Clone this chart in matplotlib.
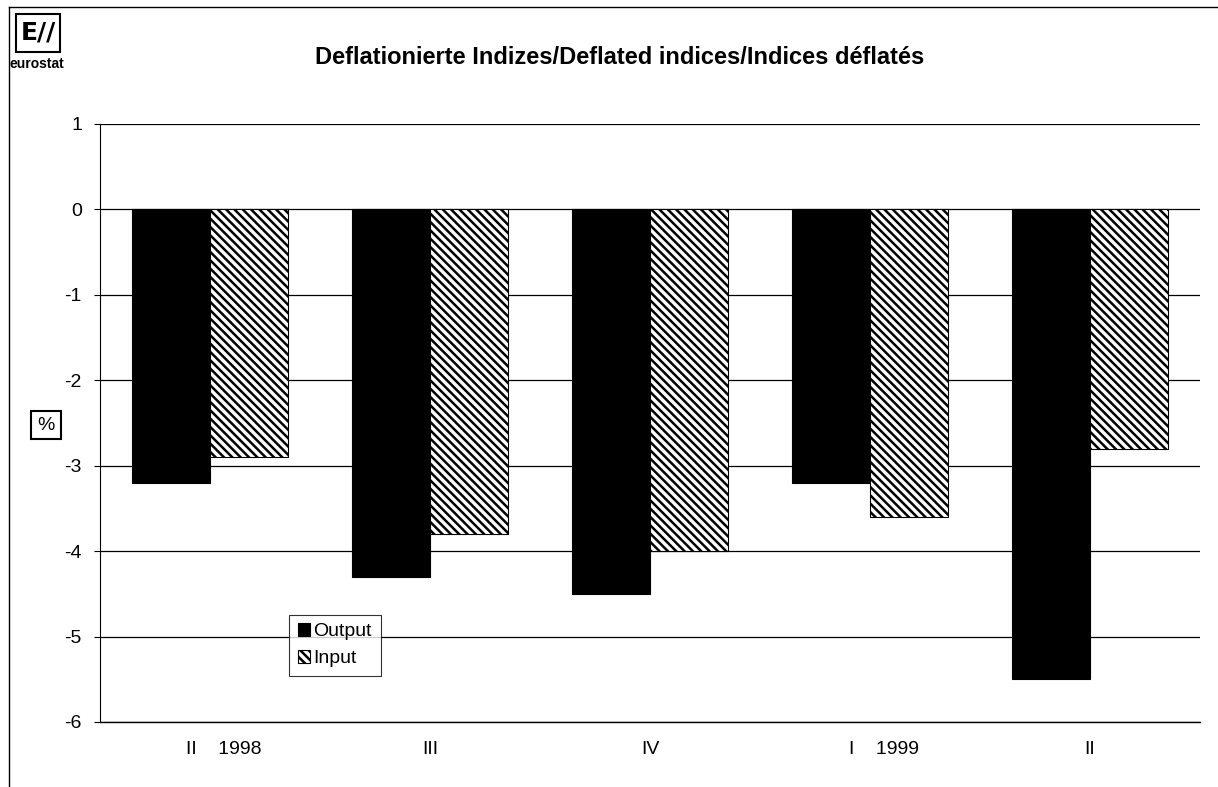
import matplotlib
matplotlib.use("Agg")
import matplotlib.pyplot as plt
from matplotlib.patches import Rectangle
import matplotlib.transforms as mtransforms
import numpy as np

plt.rcParams['font.family'] = ['Liberation Sans', 'DejaVu Sans']
plt.rcParams['hatch.linewidth'] = 1.8

categories = ["II    1998", "III", "IV", "I    1999", "II"]
output_vals = [-3.2, -4.3, -4.5, -3.2, -5.5]
input_vals = [-2.9, -3.8, -4.0, -3.6, -2.8]
yticks = [1, 0, -1, -2, -3, -4, -5, -6]

W, H = 1218, 787
fig = plt.figure(figsize=(W / 100, H / 100), dpi=100)
ax = fig.add_axes([100 / W, 1 - 722 / H, 1100 / W, (722 - 124) / H])

x = np.arange(len(categories))
bw = 0.355
ax.bar(x - bw / 2, output_vals, bw, color='black', edgecolor='black', linewidth=0.8,
       label='Output', zorder=3)
ax.bar(x + bw / 2, input_vals, bw, color='white', edgecolor='black', hatch='\\\\\\\\',
       linewidth=0.8, label='Input', zorder=3)

ax.set_xlim(-0.5, len(categories) - 0.5)
ax.set_ylim(-6, 1)
ax.set_yticks(yticks)
ax.set_yticklabels([str(v) for v in yticks], fontsize=14)
ax.set_xticks(x)
ax.set_xticklabels(categories, fontsize=14)
ax.tick_params(axis='x', length=0, pad=14)
ax.tick_params(axis='y', length=4, width=0.8, pad=9)
for lbl in ax.get_xticklabels():
    if '19' in lbl.get_text():
        lbl.set_transform(lbl.get_transform() +
                          mtransforms.ScaledTranslation(14 / 100, 0, fig.dpi_scale_trans))
ax.yaxis.grid(True, color='black', linewidth=0.9, zorder=0)
ax.set_axisbelow(True)
for s in ['top', 'right']:
    ax.spines[s].set_visible(False)
ax.spines['left'].set_linewidth(0.8)
ax.spines['bottom'].set_linewidth(1.0)

leg = ax.legend(loc='lower left', bbox_to_anchor=(0.172, 0.077), fontsize=14,
                frameon=True, fancybox=False, edgecolor='black', handlelength=0.6,
                handleheight=0.6, handletextpad=0.2, borderpad=0.45, labelspacing=0.5,
                borderaxespad=0)
leg.get_frame().set_linewidth(0.8)

fig.text(620 / W, 1 - 57 / H, "Deflationierte Indizes/Deflated indices/Indices déflatés",
         ha='center', va='center', fontsize=17, fontweight='bold')

# % label with box
fig.text(46 / W, 1 - 425 / H, "%", ha='center', va='center', fontsize=14,
         bbox=dict(boxstyle='square,pad=0.3', facecolor='white', edgecolor='black', linewidth=1.5))

# outer frame lines
fig.add_artist(plt.Line2D([9 / W, 9 / W], [0.0, 1 - 7 / H], transform=fig.transFigure,
                          color='black', linewidth=1.0))
fig.add_artist(plt.Line2D([9 / W, 1.0], [1 - 7 / H, 1 - 7 / H], transform=fig.transFigure,
                          color='black', linewidth=1.0))

# eurostat logo
fig.add_artist(Rectangle((16 / W, 1 - 52 / H), 44 / W, 38 / H, transform=fig.transFigure,
                         facecolor='white', edgecolor='black', linewidth=1.5))
fig.text(38 / W, 1 - 33 / H, "E//", ha='center', va='center', fontsize=18,
         fontweight='bold', family=['DejaVu Sans'])
fig.text(37 / W, 1 - 64 / H, "eurostat", ha='center', va='center', fontsize=10,
         fontweight='bold')

fig.savefig("out.png", dpi=100)
